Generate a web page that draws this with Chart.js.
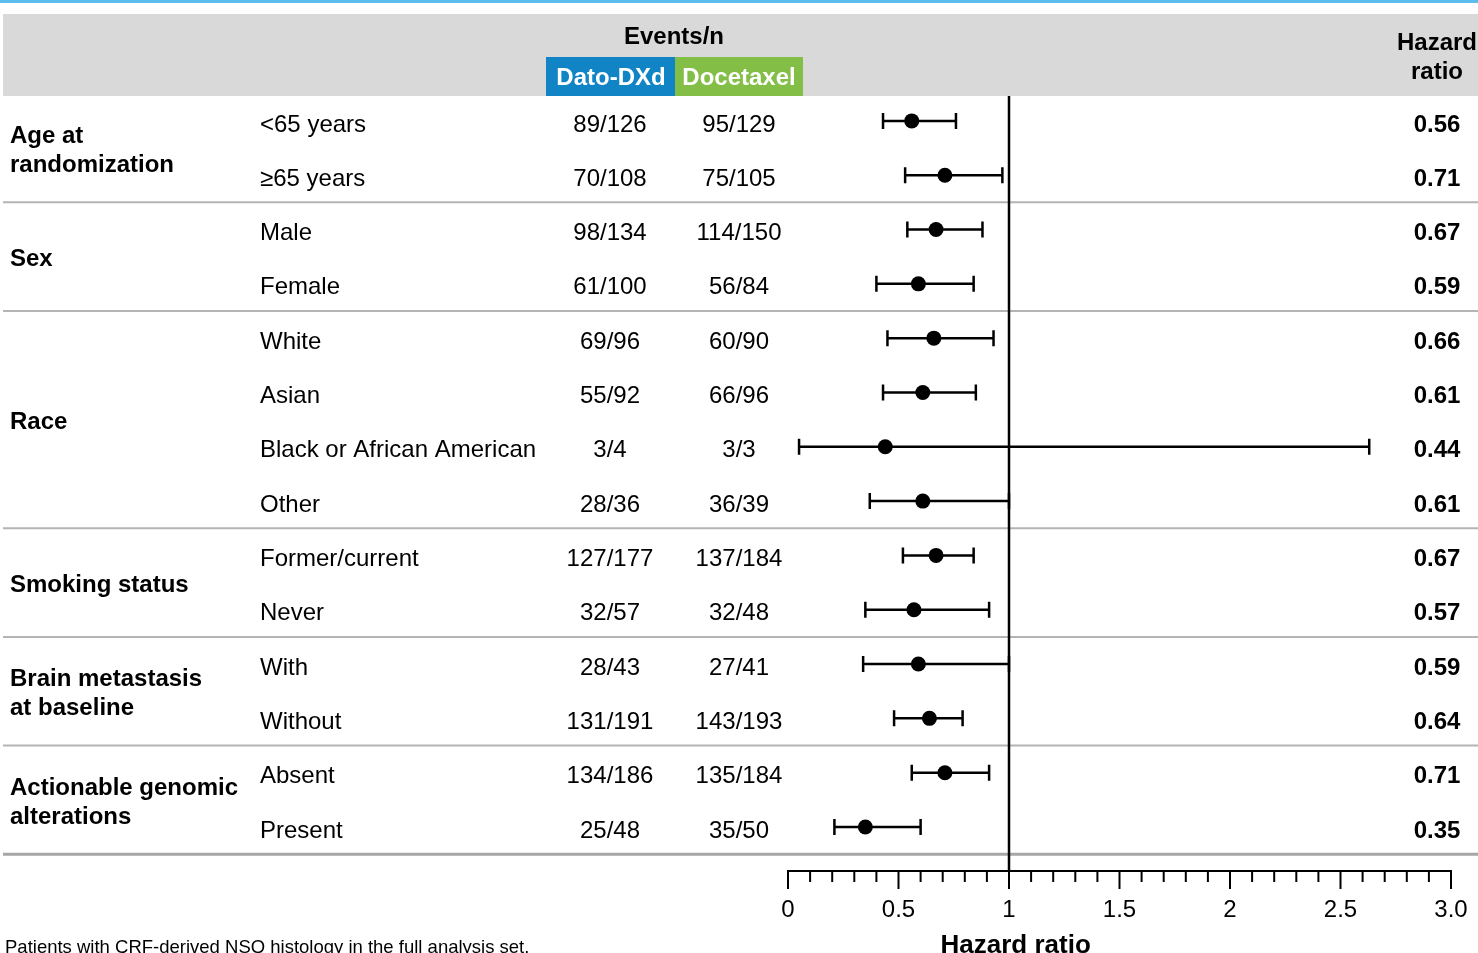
<!DOCTYPE html>
<html>
<head>
<meta charset="utf-8">
<script src="https://cdn.jsdelivr.net/npm/chart.js@4.4.1/dist/chart.umd.min.js"></script>
<style>
  body { margin: 0; background: #fff; }
  #wrap { width: 1478px; height: 953px; }
</style>
</head>
<body>
<div id="wrap"><canvas id="forest" width="1478" height="953"></canvas></div>
<script>
// subgroup rows, top to bottom
const subgroups = ['<65 years', '≥65 years', 'Male', 'Female', 'White', 'Asian',
    'Black or African American', 'Other', 'Former/current', 'Never', 'With', 'Without',
    'Absent', 'Present'];
const datoEvents = ['89/126', '70/108', '98/134', '61/100', '69/96', '55/92', '3/4', '28/36',
    '127/177', '32/57', '28/43', '131/191', '134/186', '25/48'];
const doceEvents = ['95/129', '75/105', '114/150', '56/84', '60/90', '66/96', '3/3', '36/39',
    '137/184', '32/48', '27/41', '143/193', '135/184', '35/50'];
const hazardRatio = [0.56, 0.71, 0.67, 0.59, 0.66, 0.61, 0.44, 0.61, 0.67, 0.57, 0.59, 0.64, 0.71, 0.35];
const ciLower = [0.43, 0.53, 0.54, 0.40, 0.45, 0.43, 0.05, 0.37, 0.52, 0.35, 0.34, 0.48, 0.56, 0.21];
const ciUpper = [0.76, 0.97, 0.88, 0.84, 0.93, 0.85, 2.63, 1.00, 0.84, 0.91, 1.00, 0.79, 0.91, 0.60];

// groups (label lines, number of rows)
const groupLabels = [['Age at', 'randomization'], ['Sex'], ['Race'], ['Smoking status'],
    ['Brain metastasis', 'at baseline'], ['Actionable genomic', 'alterations']];
const groupSizes = [2, 2, 4, 2, 2, 2];

const FONT = '"Liberation Sans", Arial, Helvetica, sans-serif';

function isMajor(v) {
    return Math.abs(v * 2 - Math.round(v * 2)) < 1e-6;
}

const forestPlugin = {
    id: 'forest',
    beforeDraw(chart) {
        const ctx = chart.ctx;
        const y = chart.scales.y;
        ctx.save();
        // top blue rule + header band
        ctx.fillStyle = '#5bbcee';
        ctx.fillRect(0, 0, 1478, 3);
        ctx.fillStyle = '#d9d9d9';
        ctx.fillRect(3, 14, 1475, 82);
        ctx.fillStyle = '#1184c6';
        ctx.fillRect(546, 57, 129, 39);
        ctx.fillStyle = '#83bf46';
        ctx.fillRect(675, 57, 128, 39);

        ctx.fillStyle = '#000';
        ctx.textAlign = 'center';
        ctx.textBaseline = 'middle';
        ctx.font = 'bold 24px ' + FONT;
        ctx.fillText('Events/n', 674, 37);
        ctx.fillText('Hazard', 1437, 43);
        ctx.fillText('ratio', 1437, 72);
        ctx.fillStyle = '#fff';
        ctx.fillText('Dato-DXd', 611, 78);
        ctx.fillText('Docetaxel', 739, 78);

        // table text
        ctx.fillStyle = '#000';
        let start = 0;
        groupLabels.forEach((lines, g) => {
            const mid = y.getPixelForValue(start + (groupSizes[g] - 1) / 2);
            ctx.font = 'bold 24px ' + FONT;
            ctx.textAlign = 'left';
            lines.forEach((t, k) => {
                ctx.fillText(t, 10, mid + 3 + (k - (lines.length - 1) / 2) * 29);
            });
            start += groupSizes[g];
            // separator under group
            const sy = y.getPixelForValue(start - 0.5);
            ctx.strokeStyle = g === groupLabels.length - 1 ? '#a6a6a6' : '#b4b4b4';
            ctx.lineWidth = g === groupLabels.length - 1 ? 3 : 2;
            ctx.beginPath();
            ctx.moveTo(3, sy);
            ctx.lineTo(1478, sy);
            ctx.stroke();
        });

        subgroups.forEach((s, i) => {
            const py = y.getPixelForValue(i) + 4;
            ctx.font = '24px ' + FONT;
            ctx.textAlign = 'left';
            ctx.fillText(s, 260, py);
            ctx.textAlign = 'center';
            ctx.fillText(datoEvents[i], 610, py);
            ctx.fillText(doceEvents[i], 739, py);
            ctx.font = 'bold 24px ' + FONT;
            ctx.fillText(hazardRatio[i].toFixed(2), 1437, py);
        });
        ctx.restore();
    },
    beforeDatasetsDraw(chart) {
        const ctx = chart.ctx;
        const x = chart.scales.x;
        const y = chart.scales.y;
        const area = chart.chartArea;
        ctx.save();
        ctx.strokeStyle = '#000';
        // line of no effect
        ctx.lineWidth = 2.5;
        ctx.beginPath();
        ctx.moveTo(x.getPixelForValue(1), area.top - 1);
        ctx.lineTo(x.getPixelForValue(1), area.bottom);
        ctx.stroke();
        // confidence intervals
        ctx.lineWidth = 2.5;
        hazardRatio.forEach((hr, i) => {
            const py = y.getPixelForValue(i);
            const x1 = x.getPixelForValue(ciLower[i]);
            const x2 = x.getPixelForValue(ciUpper[i]);
            ctx.beginPath();
            ctx.moveTo(x1, py);
            ctx.lineTo(x2, py);
            ctx.moveTo(x1, py - 8);
            ctx.lineTo(x1, py + 8);
            ctx.moveTo(x2, py - 8);
            ctx.lineTo(x2, py + 8);
            ctx.stroke();
        });
        // axis tick marks
        ctx.lineWidth = 2;
        x.ticks.forEach(t => {
            const px = x.getPixelForValue(t.value);
            ctx.beginPath();
            ctx.moveTo(px, area.bottom);
            ctx.lineTo(px, area.bottom + (isMajor(t.value) ? 18 : 11));
            ctx.stroke();
        });
        ctx.restore();
    },
    afterDraw(chart) {
        const ctx = chart.ctx;
        const x = chart.scales.x;
        ctx.save();
        ctx.fillStyle = '#000';
        ctx.textBaseline = 'alphabetic';
        ctx.textAlign = 'center';
        ctx.font = 'bold 26px ' + FONT;
        ctx.fillText('Hazard ratio', x.getPixelForValue(1.03), 953);
        ctx.textAlign = 'left';
        ctx.font = '18.5px ' + FONT;
        ctx.fillText('Patients with CRF-derived NSQ histology in the full analysis set.', 5, 953);
        ctx.restore();
    }
};

const ctx = document.getElementById('forest').getContext('2d');
const forestChart = new Chart(ctx, {
    type: 'scatter',
    data: {
        datasets: [{
            label: 'Hazard ratio',
            data: hazardRatio.map((hr, i) => ({ x: hr, y: i })),
            backgroundColor: '#000',
            borderWidth: 0,
            pointRadius: 7.5,
            pointHoverRadius: 7.5
        }]
    },
    options: {
        responsive: false,
        animation: false,
        devicePixelRatio: 1,
        layout: { padding: { left: 788, right: 27, top: 97, bottom: 0 } },
        plugins: { legend: { display: false }, tooltip: { enabled: false } },
        scales: {
            x: {
                type: 'linear',
                min: 0,
                max: 3,
                position: 'bottom',
                border: { display: true, color: '#000', width: 2 },
                grid: { display: false, drawTicks: false },
                afterFit: (scale) => {
                    scale.height = 82;
                    scale.paddingLeft = 0;
                    scale.paddingRight = 0;
                },
                ticks: {
                    stepSize: 0.1,
                    autoSkip: false,
                    minRotation: 0,
                    maxRotation: 0,
                    padding: 25,
                    color: '#000',
                    font: { family: FONT, size: 24 },
                    callback: (v) => {
                        if (!isMajor(v)) return '';
                        const r = Math.round(v * 2) / 2;
                        return r === 3 ? '3.0' : String(r);
                    }
                }
            },
            y: {
                type: 'linear',
                min: -0.44,
                max: 13.81,
                reverse: true,
                display: false
            }
        }
    },
    plugins: [forestPlugin]
});
</script>
</body>
</html>
